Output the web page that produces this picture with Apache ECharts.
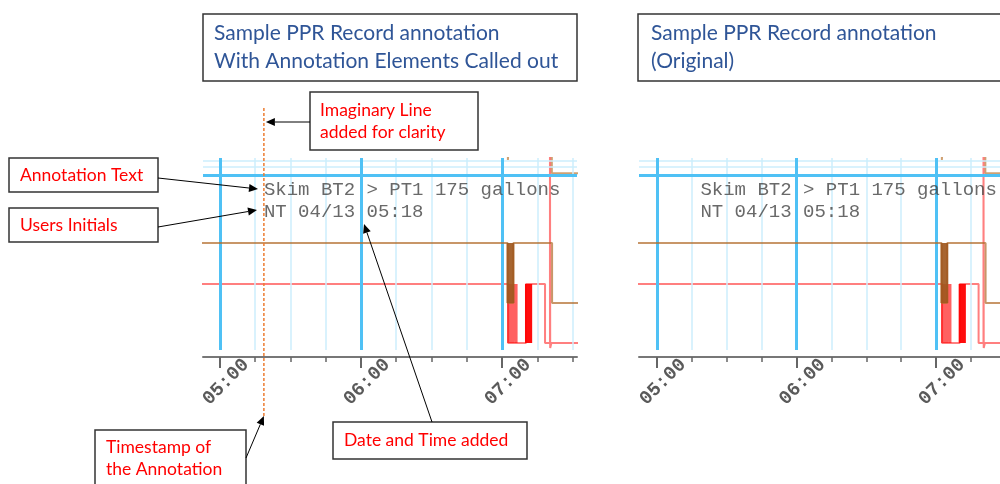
<!DOCTYPE html>
<html><head><meta charset="utf-8">
<script src="https://cdn.jsdelivr.net/npm/echarts@6/dist/echarts.min.js"></script>
<style>html,body{margin:0;padding:0;background:#fff}#c{width:1000px;height:484px}</style>
</head><body><div id="c"></div>
<script>
// ---- data (time in minutes since midnight) ----
const majorTicks = [300, 360, 420];              // 05:00 06:00 07:00
const minorTicks = [315, 330, 345, 375, 390, 405, 435, 450];
const hLinesMajor = [91.1];
const hLinesMinor = [95.3, 98.4];
const tanUpperSeries = [[280,110],[422.5,99],[423.1,110],[441.2,92],[470,92]];
const tanSeries = [[280,55.7],[422.4,24.5],[424.8,55.7],[441.3,24.5],[470,24.5]];
const tanBurst = [[422.4,55.7],[422.4,24.5],[422.6,55.7],[422.8,24.5],[423.0,55.7],[423.2,24.5],[423.4,55.7],[423.6,24.5],
  [423.8,55.7],[424.0,24.5],[424.2,55.7],[424.4,24.5],[424.6,55.7],[424.8,24.5],[424.8,55.7]];
const redSeries = [[280,34.4],[422.6,3.6],[430.2,34.4],[438.3,3.6],[440.4,120],[440.5,1],[441.0,3.6],[470,3.6]];
const redBurstA = [[422.6,34.4],[422.6,3.6],[423.0,34.4],[423.4,3.6],[423.8,34.4],[424.2,3.6],[424.6,34.4],[425.0,3.6],
  [425.45,34.4],[425.9,3.6],[426.2,34.4],[426.2,3.6]];
const redBurstB = [[430.2,3.6],[430.2,34.4],[430.45,3.6],[430.7,34.4],[430.95,3.6],[431.2,34.4],[431.45,3.6],[431.7,34.4],
  [431.95,3.6],[432.2,34.4],[432.4,3.6],[432.4,34.4]];
const annotationTime = 318.7;
const annotationLevel = 77.5;
const annotationLines = ['Skim BT2 > PT1 175 gallons', 'NT 04/13 05:18'];
const titleLeftLines = ['Sample PPR Record annotation', 'With Annotation Elements Called out'];
const titleRightLines = ['Sample PPR Record annotation', '(Original)'];
const calloutImaginary = ['Imaginary Line', 'added for clarity'];
const calloutAnnotationText = ['Annotation Text'];
const calloutUsers = ['Users Initials'];
const calloutDate = ['Date and Time added'];
const calloutTimestamp = ['Timestamp of', 'the Annotation'];

const pad = n => (n < 10 ? '0' : '') + n;
const fmt = v => pad(Math.floor(v / 60)) + ':' + pad(Math.round(v % 60));

const chart = echarts.init(document.getElementById('c'));
const grids = [
  {left: 203, width: 374, top: 158, height: 192, min: 292.8, max: 451.9},
  {left: 639, width: 361, top: 158, height: 192, min: 292.3, max: 447.5}
];
const xAxis = [], yAxis = [], series = [];
const BLUE = '#4fc1f5', LBLUE = '#cdeefd';
grids.forEach((g, gi) => {
  xAxis.push({type: 'value', gridIndex: gi, min: g.min, max: g.max, position: 'bottom', offset: 7,
    axisLine: {show: true, onZero: false, lineStyle: {color: '#777', width: 2}},
    axisTick: {show: true, customValues: majorTicks, length: 11, lineStyle: {color: '#666', width: 2}},
    axisLabel: {show: false},
    splitLine: {show: false}});
  xAxis.push({type: 'value', gridIndex: gi, min: g.min, max: g.max, position: 'bottom', offset: 7,
    axisLine: {show: false, onZero: false},
    axisTick: {show: true, customValues: minorTicks, length: 5, lineStyle: {color: '#666', width: 1.5}},
    axisLabel: {show: false}, splitLine: {show: false}});
  yAxis.push({type: 'value', gridIndex: gi, min: 0, max: 100, show: false});
  const xi = gi * 2, yi = gi;
  const ml = [];
  minorTicks.forEach(v => ml.push({xAxis: v, lineStyle: {color: LBLUE, width: 1.5, type: 'solid'}}));
  hLinesMinor.forEach(v => ml.push({yAxis: v, lineStyle: {color: LBLUE, width: 1.5, type: 'solid'}}));
  majorTicks.forEach(v => ml.push({xAxis: v, lineStyle: {color: BLUE, width: 3, type: 'solid'}}));
  hLinesMajor.forEach(v => ml.push({yAxis: v, lineStyle: {color: BLUE, width: 3, type: 'solid'}}));
  series.push({type: 'line', xAxisIndex: xi, yAxisIndex: yi, data: [], silent: true, z: 1,
    markLine: {silent: true, symbol: ['none', 'none'], animation: false, label: {show: false}, data: ml}});
  const lineBase = {type: 'line', xAxisIndex: xi, yAxisIndex: yi, step: 'end', showSymbol: false, symbol: 'none',
    animation: false, clip: true, z: 3};
  const add = (name, data, color, z) => series.push(Object.assign({}, lineBase, {name, data, z, lineStyle: {color, width: 2}}));
  add('tanUpper', tanUpperSeries, 'rgba(186,121,55,0.7)', 3);
  add('red', redSeries, 'rgba(255,0,0,0.5)', 3);
  add('redBurstA', redBurstA, 'rgba(255,0,0,0.62)', 4);
  add('redBurstB', redBurstB, 'rgba(255,0,0,0.95)', 4);
  add('tan', tanSeries, 'rgba(176,106,40,0.7)', 5);
  add('tanBurst', tanBurst, 'rgba(160,88,30,0.92)', 6);
  series.push({type: 'scatter', xAxisIndex: xi, yAxisIndex: yi, symbolSize: 0, itemStyle: {color: 'rgba(0,0,0,0)'},
    data: [[annotationTime, annotationLevel]], z: 7, animation: false, silent: true,
    label: {show: true, position: 'right', distance: 0, formatter: annotationLines.join('\n'),
      color: '#444', fontFamily: 'Liberation Mono', fontSize: 19, lineHeight: 21.5, align: 'left'}});
});
chart.setOption({animation: false, grid: grids.map(g => ({left: g.left, width: g.width, top: g.top, height: g.height})),
  xAxis, yAxis, series});

// ---- tick labels (rotated 45°, placed from the axis scale) ----
const G = [];
grids.forEach((g, gi) => {
  majorTicks.forEach(v => {
    const px = chart.convertToPixel({xAxisIndex: gi * 2}, v);
    G.push({type: 'text', z: 50, x: px + 6, y: 382, rotation: Math.PI / 4,
      style: {text: fmt(v), fill: '#5a5a5a', fontSize: 19, fontWeight: 'bold', fontFamily: 'Liberation Mono',
        align: 'center', verticalAlign: 'middle'}});
  });
});

// ---- callout decorations ----
function box(x, y, w, h) { G.push({type: 'rect', z: 100, shape: {x, y, width: w, height: h}, style: {fill: '#fff', stroke: '#333', lineWidth: 1.5}}); }
function txt(lines, x, y, lh, color, size) {
  lines.forEach((t, i) => G.push({type: 'text', z: 101, x, y: y + i * lh,
    style: {text: t, fill: color, fontSize: size, fontFamily: 'Lato', align: 'left', verticalAlign: 'middle'}}));
}
function arrow(x1, y1, x2, y2) {
  const a = Math.atan2(y2 - y1, x2 - x1), L = 9, W = 4, c = Math.cos(a), s = Math.sin(a);
  const bx = x2 - L * c, by = y2 - L * s;
  G.push({type: 'line', z: 102, shape: {x1, y1, x2: bx, y2: by}, style: {stroke: '#000', lineWidth: 1}});
  G.push({type: 'polygon', z: 102, shape: {points: [[x2, y2], [bx - W * s, by + W * c], [bx + W * s, by - W * c]]}, style: {fill: '#000'}});
}
const TB = '#2f5597', RED = '#ff0000';
box(203, 14, 374, 67); txt(titleLeftLines, 214, 33, 28, TB, 21);
box(638, 14, 400, 67); txt(titleRightLines, 651, 33, 28, TB, 21);
const ax = chart.convertToPixel({xAxisIndex: 0}, annotationTime);
G.push({type: 'line', z: 99, shape: {x1: ax, y1: 108, x2: ax, y2: 416}, style: {stroke: '#ed7d31', lineWidth: 1.5, lineDash: [3, 2]}});
box(310, 92, 168, 58); txt(calloutImaginary, 320, 110, 22, RED, 17.5); arrow(310, 122, ax + 2, 122);
box(9, 158, 149, 34); txt(calloutAnnotationText, 20, 175, 22, RED, 17.5); arrow(158, 178, 258, 189);
box(9, 208, 149, 34); txt(calloutUsers, 20, 225, 22, RED, 17.5); arrow(158, 227, 257, 210);
box(333, 422, 194, 37); txt(calloutDate, 344, 440, 22, RED, 17.5); arrow(432, 422, 364, 224);
box(95, 430, 151, 60); txt(calloutTimestamp, 106, 447, 22, RED, 17.5); arrow(246, 458, ax, 416);
chart.setOption({graphic: {elements: G}});
</script></body></html>
